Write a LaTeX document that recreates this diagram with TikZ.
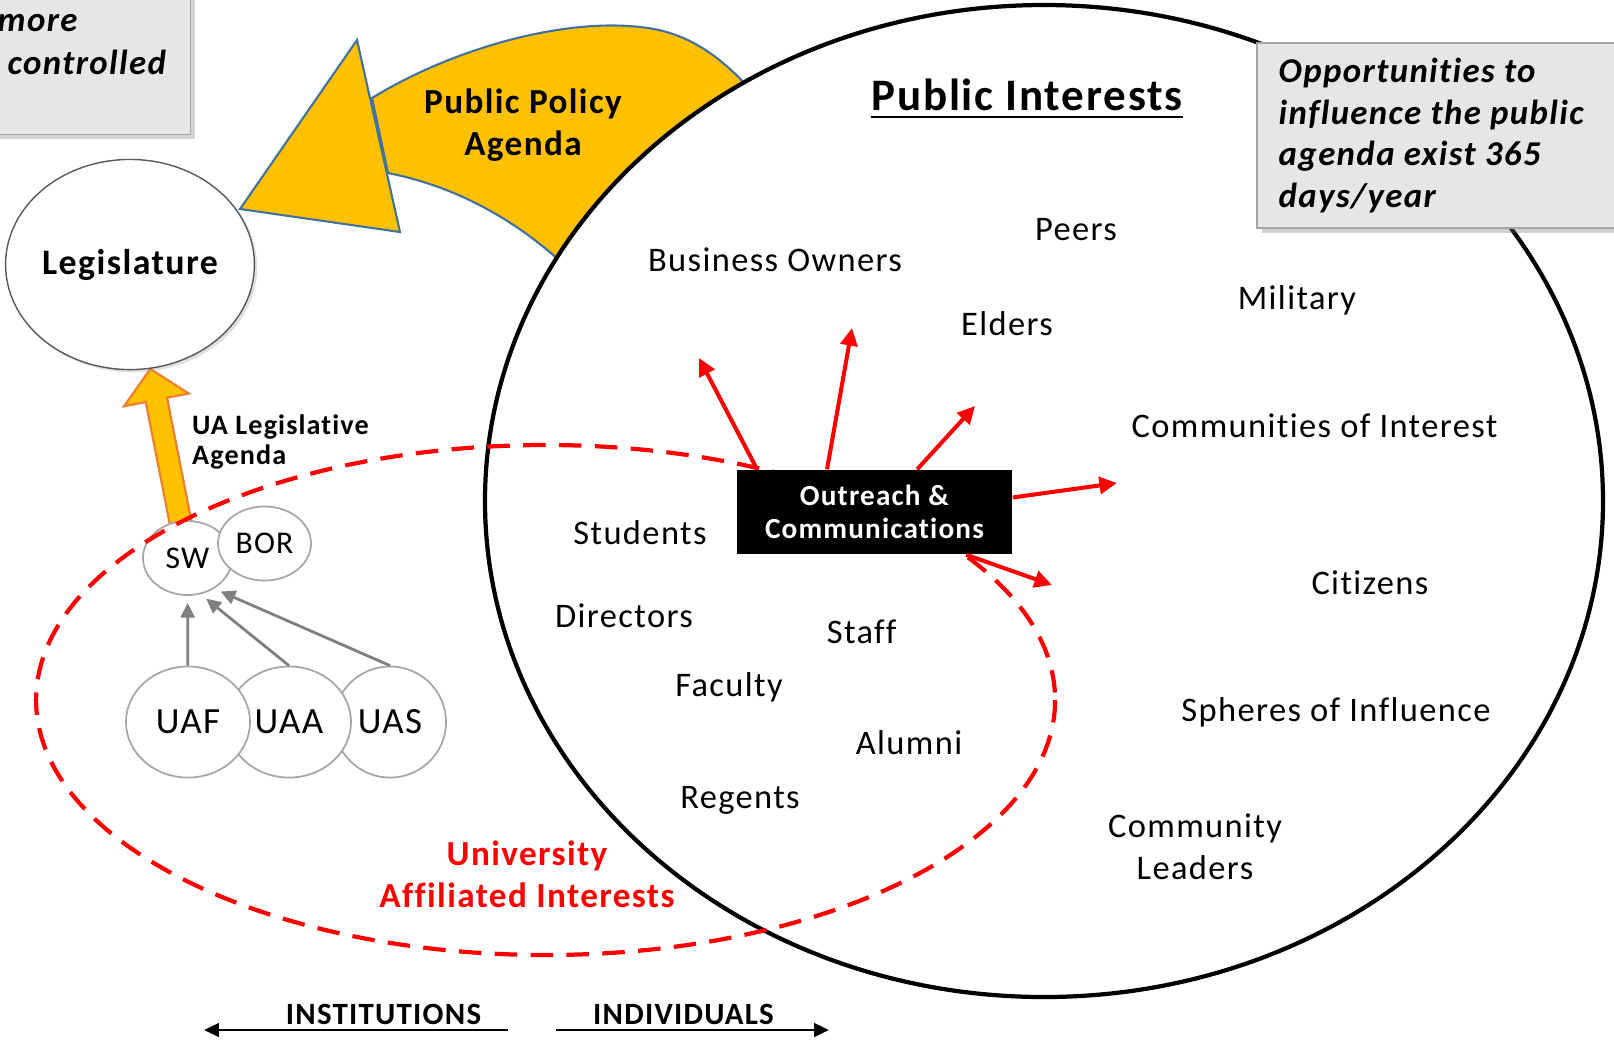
\documentclass[tikz,border=0pt]{standalone}
\usepackage{fontspec}
\setmainfont{Carlito}[LetterSpace=4,Ligatures=NoCommon]
\usepackage{tikz}
\usetikzlibrary{arrows.meta,shapes.geometric,shadows,calc,backgrounds}
\definecolor{policygold}{HTML}{FFC000}
\definecolor{policyrim}{HTML}{41719C}
\definecolor{notegray}{HTML}{E6E6E6}
\definecolor{rimgray}{HTML}{A6A6A6}
\definecolor{agendarim}{HTML}{ED7D31}

\begin{document}
\begin{tikzpicture}[x=0.01cm,y=-0.01cm,
		lbl/.style={font=\fontsize{9.8}{11.8}\selectfont,inner sep=0pt},
		hdr/.style={font=\bfseries\fontsize{10}{11.9}\selectfont,inner sep=0pt,align=center},
		unit/.style={ellipse,draw=rimgray,line width=0.5pt,fill=white,inner sep=0pt,minimum width=0.89cm,minimum height=0.74cm,font=\fontsize{9}{11}\selectfont},
		campus/.style={unit,minimum width=1.24cm,minimum height=1.11cm,font=\fontsize{10.5}{12}\selectfont},
		outarr/.style={red,line width=1.15pt,-{Triangle[length=5pt,width=4.8pt]}},
		grayarr/.style={draw=gray,line width=0.8pt,shorten >=2pt,-{Triangle[length=4.2pt,width=4pt]}},
		note/.style={fill=notegray,draw=rimgray,line width=0.5pt,drop shadow={opacity=0.35,shadow xshift=1.3pt,shadow yshift=-1.3pt}},
		notetxt/.style={font=\bfseries\itshape\fontsize{9.9}{11.9}\selectfont,inner sep=0pt,anchor=base west},
		sidearr/.style={line width=0.8pt,-{Triangle[length=4.2pt,width=3.8pt]}}]
	\path[use as bounding box,clip] (0,0) rectangle (1614,1041);
	\begin{pgfonlayer}{background}
		\filldraw[fill=policygold,draw=policyrim,line width=0.6pt] (372,98) .. controls (450,50) and (560,18) .. (640,27) .. controls (700,33) and (740,70) .. (790,140) -- (620,330) .. controls (580,270) and (500,195) .. (388,173) -- cycle;
		\filldraw[fill=policygold,draw=policyrim,line width=0.6pt] (357,40) -- (240,209) -- (400,232) -- cycle;
		\filldraw[fill=white,line width=1.2pt] (1044,501) ellipse [x radius=559,y radius=496];
	\end{pgfonlayer}
	\node[ellipse,draw=gray!70!black,line width=0.4pt,fill=white,minimum width=2.38cm,minimum height=2.1cm,inner sep=0pt,font=\bfseries\fontsize{10.2}{12}\selectfont,drop shadow={opacity=0.25,shadow xshift=0.8pt,shadow yshift=-0.8pt}] (leg) at (130,264.5) {Legislature};
	\node[unit] (sw) at (187.5,558) {SW};
	\node[unit,minimum width=0.93cm] (bor) at (264.5,543.5) {BOR};
	\node[campus,minimum width=1.12cm] (uas) at (390,722) {UAS};
	\node[campus] (uaa) at (289,722) {UAA};
	\node[campus] (uaf) at (188,722) {UAF};
	\draw[grayarr] (uaf) -- (sw);
	\draw[grayarr] (uaa.north) -- (sw.-70);
	\draw[grayarr] (uas.north) -- (sw.-49);
	\begin{pgfonlayer}{background}
		\coordinate (agTip) at (leg.-79);
		\coordinate (agBase) at ($(sw.101)!-5pt!(leg.-79)$);
		\coordinate (agHead) at ($(agTip)!9pt!(agBase)$);
		\filldraw[fill=policygold,draw=agendarim,line width=0.6pt] (agTip) -- ($(agHead)!9.4pt!90:(agTip)$) -- ($(agHead)!3.1pt!90:(agTip)$) -- ($(agBase)!3.1pt!90:(agTip)$) -- ($(agBase)!3.1pt!-90:(agTip)$) -- ($(agHead)!3.1pt!-90:(agTip)$) -- ($(agHead)!9.4pt!-90:(agTip)$) -- cycle;
	\end{pgfonlayer}
	\node[hdr,font=\bfseries\fontsize{8}{8.7}\selectfont,align=left,anchor=west] (ualeg) at (191.5,442) {UA Legislative\\Agenda};
	\draw[red,line width=1.2pt,dash pattern=on 6.4pt off 3.8pt] (545.6,700) ellipse [x radius=509.5,y radius=255];
	\node[fill=black,minimum width=2.75cm,minimum height=0.84cm,inner sep=0pt,text=white,align=center,font=\bfseries\fontsize{8.3}{9.2}\selectfont] (oc) at (874.5,512) {Outreach \&\\Communications};
	\coordinate (toBiz) at (699,358);
	\coordinate (toMid) at (852,328);
	\coordinate (toElders) at (975,406);
	\coordinate (toComm) at (1117,483);
	\coordinate (toCit) at (1052,585);
	\draw[outarr] (oc.160) -- (toBiz);
	\draw[outarr] (oc.138) -- (toMid);
	\draw[outarr] (oc.45) -- (toElders);
	\draw[outarr] (oc.6) -- (toComm);
	\draw[outarr] (oc.-25) -- (toCit);
	\node[font=\bfseries\fontsize{12.8}{14}\selectfont,inner sep=0pt,anchor=base] (pubint) at (1027,110) {Public Interests};
	\draw[line width=0.8pt] ($(pubint.base west)+(0,7)$) -- ($(pubint.base east)+(0,7)$);
	\node[hdr] (policy) at (523,125) {Public Policy\\Agenda};
	\node[lbl] (biz) at (775,260) {Business Owners};
	\node[lbl] (peers) at (1076,229.5) {Peers};
	\node[lbl] (elders) at (1007,324) {Elders};
	\node[lbl] (mil) at (1297,300.5) {Military};
	\node[lbl] (coi) at (1314.5,426) {Communities of Interest};
	\node[lbl] (stud) at (640,533) {Students};
	\node[lbl] (dir) at (624,615.5) {Directors};
	\node[lbl] (staff) at (861.6,632) {Staff};
	\node[lbl] (fac) at (729,687.6) {Faculty};
	\node[lbl] (alum) at (909,743) {Alumni};
	\node[lbl] (reg) at (740,800) {Regents};
	\node[lbl] (cit) at (1370,582.6) {Citizens};
	\node[lbl] (sph) at (1336,712) {Spheres of Influence};
	\node[lbl,align=center] (lead) at (1195,847) {Community\\Leaders};
	\node[hdr,text=red] (uni) at (527,874) {University\\Affiliated Interests};
	\draw[note] (-40,-40) rectangle (190.5,134.5);
	\node[notetxt] (more) at (-3,31.5) {more};
	\node[notetxt] (ctrl) at (7,74) {controlled};
	\draw[note] (1257,43) rectangle (1680,228);
	\foreach \txt [count=\i] in {Opportunities to,influence the public,agenda exist 365,days/year}
		\node[notetxt] (opp\i) at (1278,{82.5+41.7*(\i-1)}) {\txt};
	\node[font=\bfseries\fontsize{8.8}{10}\selectfont,inner sep=0pt] (inst) at (383.5,1014) {INSTITUTIONS};
	\node[font=\bfseries\fontsize{8.8}{10}\selectfont,inner sep=0pt] (indiv) at (683.5,1014) {INDIVIDUALS};
	\coordinate (instStart) at (508,1030);
	\coordinate (instEnd) at (204,1030);
	\coordinate (indStart) at (556,1030);
	\coordinate (indEnd) at (829,1030);
	\draw[sidearr] (instStart) -- (instEnd);
	\draw[sidearr] (indStart) -- (indEnd);
\end{tikzpicture}
\end{document}
